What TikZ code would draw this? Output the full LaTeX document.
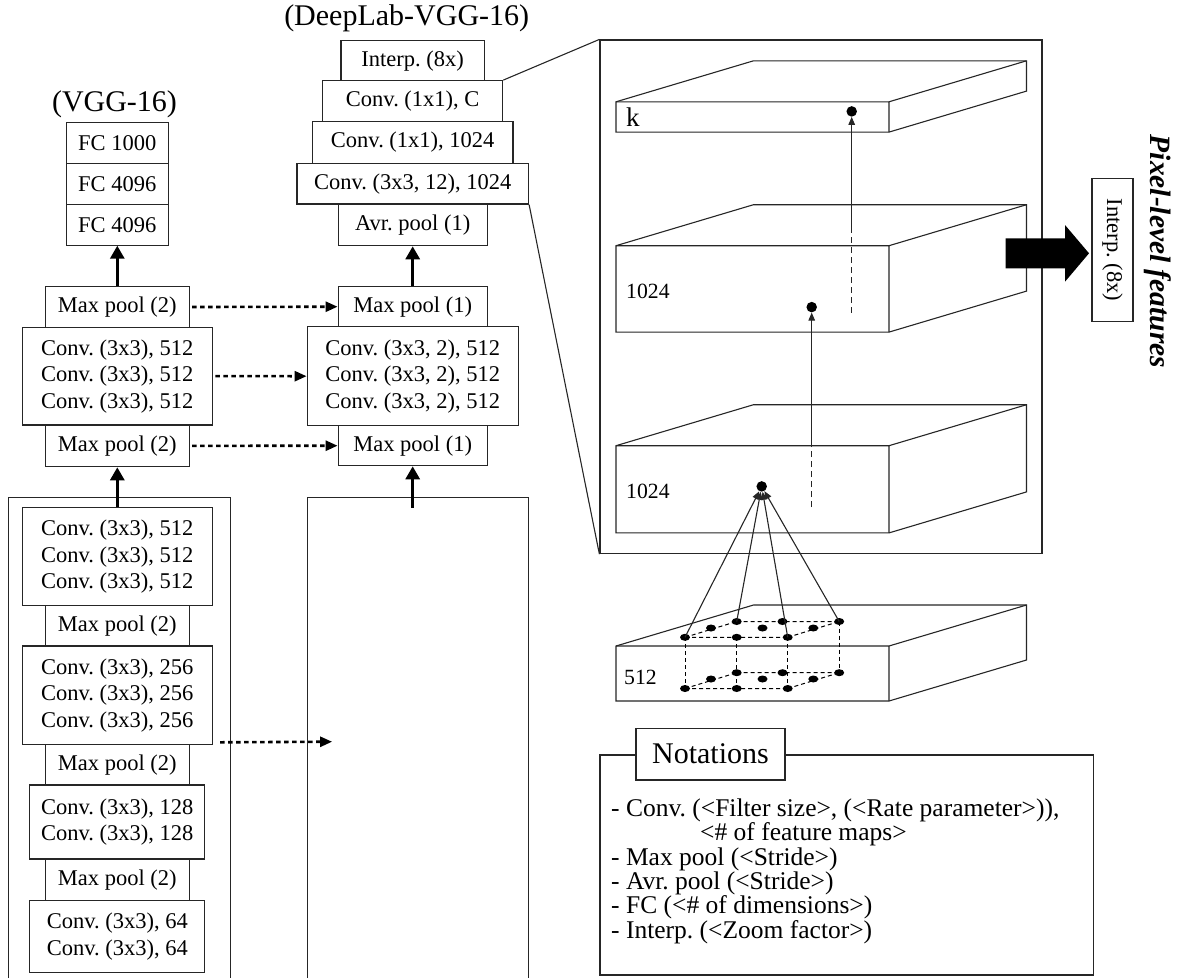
\documentclass[tikz,border=0pt]{standalone}
\usepackage{fontspec}
\setmainfont{Liberation Serif}
\usetikzlibrary{arrows.meta,calc,shapes.geometric}
\frenchspacing
\newcommand{\drawslab}[4]{%
 \draw[fine, fill=white] (#1,#2) -- ({#1+137.5},{#2-41}) -- ({#3+137.5},{#2-41}) -- ({#3+137.5},{#4-41}) -- (#3,#4) -- (#1,#4) -- cycle;
 \draw[fine] (#1,#2) -- (#3,#2) -- ({#3+137.5},{#2-41}) (#3,#2) -- (#3,#4);}
\begin{document}
\begin{tikzpicture}[x=1pt,y=-1pt,
  fine/.style={line width=1.1pt, draw=black!85},
  blk/.style={draw=black!85, line width=1.2pt, fill=white, inner sep=0pt, align=center, font=\fontsize{22.5}{26.5}\selectfont},
  wh/.style 2 args={minimum width=#1pt, minimum height=#2pt},
  thickarrow/.style={line width=3pt, -{Triangle[length=13pt,width=14pt]}},
  dotarrow/.style={line width=2.6pt, dash pattern=on 4.5pt off 3.5pt, -{Triangle[length=12pt,width=10pt]}},
  smallarrow/.style={fine, -{Triangle[length=8pt,width=6.5pt]}},
  hidden/.style={fine, dash pattern=on 6pt off 4pt},
  gridline/.style={line width=1pt, dash pattern=on 4pt off 3pt},
  sdot/.style={circle, fill=black, inner sep=0pt, minimum size=10.5pt},
  gdot/.style={ellipse, fill=black, inner sep=0pt, minimum width=10pt, minimum height=7pt},
  title/.style={font=\fontsize{30}{30}\selectfont, anchor=base, inner sep=0pt},
  lab/.style={font=\fontsize{21.7}{22}\selectfont, anchor=base west, inner sep=0pt},
  note/.style={font=\fontsize{25.5}{25.5}\selectfont, anchor=base west, inner sep=0pt}
]
\useasboundingbox (0,0) rectangle (1183,978);

% ---------- VGG-16 ----------
\node[title] (vggt) at (114.5,111.7) {(VGG-16)};
\node[blk, wh={102}{40.8}] (fc1) at (117.3,143.1) {FC 1000};
\node[blk, wh={102}{40.8}] (fc2) at (117.3,183.9) {FC 4096};
\node[blk, wh={102}{40.8}] (fc3) at (117.3,224.7) {FC 4096};
\node[blk, wh={143.6}{40.6}] (mp1) at (117.3,307) {Max pool (2)};
\node[blk, wh={189.6}{97.7}] (cv1) at (117.3,376.15) {Conv. (3x3), 512\\Conv. (3x3), 512\\Conv. (3x3), 512};
\node[blk, wh={143.6}{41.7}] (mp2) at (117.3,445.85) {Max pool (2)};

\draw[fine] (8.9,978) -- (8.9,497.7) -- (230.4,497.7) -- (230.4,978);
\node[blk, wh={190.4}{98}] (cv2) at (117.3,556.7) {Conv. (3x3), 512\\Conv. (3x3), 512\\Conv. (3x3), 512};
\node[blk, wh={143.9}{40.3}] (mp3) at (117.3,625.85) {Max pool (2)};
\node[blk, wh={190.4}{98.3}] (cv3) at (117.3,695.15) {Conv. (3x3), 256\\Conv. (3x3), 256\\Conv. (3x3), 256};
\node[blk, wh={143.9}{40.7}] (mp4) at (117.3,764.65) {Max pool (2)};
\node[blk, wh={175}{74}] (cv4) at (117.3,822) {Conv. (3x3), 128\\Conv. (3x3), 128};
\node[blk, wh={143.9}{41.5}] (mp5) at (117.3,879.75) {Max pool (2)};
\node[blk, wh={175}{72}] (cv5) at (117.3,936.5) {Conv. (3x3), 64\\Conv. (3x3), 64};

% ---------- DeepLab-VGG-16 ----------
\node[title] (dlt) at (406.7,25) {(DeepLab-VGG-16)};
\node[blk, wh={143.3}{40}] (ip) at (412.7,60.7) {Interp. (8x)};
\node[blk, wh={180}{41}] (cc) at (412.7,101.2) {Conv. (1x1), C};
\node[blk, wh={200.6}{41.6}] (c1) at (412.7,142.5) {Conv. (1x1), 1024};
\node[blk, wh={231.6}{40.7}] (c3) at (412.7,183.65) {Conv. (3x3, 12), 1024};
\node[blk, wh={149}{41.7}] (avr) at (412.7,224.85) {Avr. pool (1)};
\node[blk, wh={149}{40}] (dmp1) at (412.7,306.7) {Max pool (1)};
\node[blk, wh={211}{99}] (dcv) at (412.7,376.2) {Conv. (3x3, 2), 512\\Conv. (3x3, 2), 512\\Conv. (3x3, 2), 512};
\node[blk, wh={149}{40}] (dmp2) at (412.7,445.7) {Max pool (1)};
\draw[fine] (307.9,978) -- (307.9,497.7) -- (528.6,497.7) -- (528.6,978);
\coordinate (dlin) at (412.7,507.7);
\coordinate (dl3) at (332.1,741.7);

% ---------- arrows between columns ----------
\draw[thickarrow] (mp1.north) -- (fc3.south);
\draw[thickarrow] (cv2.north) -- (mp2.south);
\draw[thickarrow] (dmp1.north) -- (avr.south);
\draw[thickarrow] (dlin) -- (dmp2.south);
\draw[dotarrow] ([xshift=2.5pt]mp1.east) -- (dmp1.west);
\draw[dotarrow] ([xshift=2.7pt]cv1.east) -- (dcv.west);
\draw[dotarrow] ([xshift=2.5pt]mp2.east) -- (dmp2.west);
\draw[dotarrow] ([shift={(7.1,-2.6)}]cv3.south east) -- (dl3);

% ---------- zoom box ----------
\node[draw=black!85, line width=1.2pt, minimum width=442pt, minimum height=513.6pt, inner sep=0pt] (zb) at (821,296.8) {};
\draw[fine] (cc.north east) -- (zb.north west);
\draw[fine] (c3.south east) -- (zb.south west);

\drawslab{616}{101.8}{889}{132.1}
\drawslab{616}{245.7}{889}{332.1}
\drawslab{616}{445.7}{889}{532.9}
\drawslab{616}{646}{889}{701}

\node[font=\fontsize{27}{27}\selectfont, anchor=base west, inner sep=0pt] (lk) at (626,126.8) {k};
\node[lab] (l1) at (626,298.2) {1024};
\node[lab] (l2) at (626,498.2) {1024};
\node[lab] (l3) at (624,684) {512};

\node[sdot] (d1) at (761.7,486.4) {};
\node[sdot] (d2) at (811.7,307.1) {};
\node[sdot] (d3) at (851.7,111.4) {};
\coordinate (s2a) at (811.7,507.1);
\coordinate (s2b) at (811.7,444.6);
\coordinate (s3a) at (851.7,312.5);
\coordinate (s3b) at (851.7,228.6);
\draw[hidden] (s2a) -- (s2b);
\draw[smallarrow] (s2b) -- (d2);
\draw[hidden] (s3a) -- (s3b);
\draw[smallarrow] (s3b) -- (d3);

% grid of dots on the 512 slab
\node[gdot] (tf1) at (685,637.3) {};
\node[gdot] (tf2) at (736.7,637.3) {};
\node[gdot] (tf3) at (787.7,637.3) {};
\node[gdot] (tm1) at (711,628) {};
\node[gdot] (tm2) at (762.5,628) {};
\node[gdot] (tm3) at (813.3,628) {};
\node[gdot] (tb1) at (736.7,621.5) {};
\node[gdot] (tb2) at (782.5,621.5) {};
\node[gdot] (tb3) at (839.2,621.5) {};
\node[gdot] (bf1) at (685,688.5) {};
\node[gdot] (bf2) at (736.7,688.5) {};
\node[gdot] (bf3) at (787.7,688.5) {};
\node[gdot] (bm1) at (711,679) {};
\node[gdot] (bm2) at (762.5,679) {};
\node[gdot] (bm3) at (813.3,679) {};
\node[gdot] (bb1) at (736.7,672.7) {};
\node[gdot] (bb2) at (782.5,672.7) {};
\node[gdot] (bb3) at (839.2,672.7) {};
\draw[gridline] (tf1.center) -- (tf3.center) (tb1.center) -- (tb3.center)
  (tf1.center) -- (tb1.center) (tf3.center) -- (tb3.center);
\draw[gridline] (bf1.center) -- (bf3.center) (bb1.center) -- (bb3.center)
  (bf1.center) -- (bb1.center) (bf3.center) -- (bb3.center);
\draw[gridline] (tf1.center) -- (bf1.center) (tf2.center) -- (bf2.center)
  (tf3.center) -- (bf3.center) (tb3.center) -- (bb3.center);
\draw[smallarrow] (tf1.center) -- (d1);
\draw[smallarrow] (tb1.center) -- (d1);
\draw[smallarrow] (tf3.center) -- (d1);
\draw[smallarrow] (tb3.center) -- (d1);

% ---------- output ----------
\fill (1005.7,238.3) -- (1065,238.3) -- (1065,225) -- (1089,253.3) -- (1065,281.7) -- (1065,268.3) -- (1005.7,268.3) -- cycle;
\node[blk, rotate=-90, wh={143.4}{41}] (ipx) at (1112.5,250) {Interp. (8x)};
\node[font=\fontsize{29.5}{30}\selectfont\bfseries\itshape, rotate=-90, inner sep=0pt] (plf) at (1158,251.5) {Pixel-level features};

% ---------- notations ----------
\node[draw=black!85, line width=1.2pt, minimum width=493.3pt, minimum height=220pt, inner sep=0pt] (nb) at (846.65,865) {};
\node[blk, font=\fontsize{30}{30}\selectfont, wh={149}{51.7}] (nt) at (710.5,754.2) {Notations};
\node[note] (n1) at (611,816.5) {- Conv. (<Filter size>, (<Rate parameter>)),};
\node[note] (n2) at (700,840.8) {<\# of feature maps>};
\node[note] (n3) at (611,865.1) {- Max pool (<Stride>)};
\node[note] (n4) at (611,889.4) {- Avr. pool (<Stride>)};
\node[note] (n5) at (611,913.7) {- FC (<\# of dimensions>)};
\node[note] (n6) at (611,938) {- Interp. (<Zoom factor>)};
\end{tikzpicture}
\end{document}
